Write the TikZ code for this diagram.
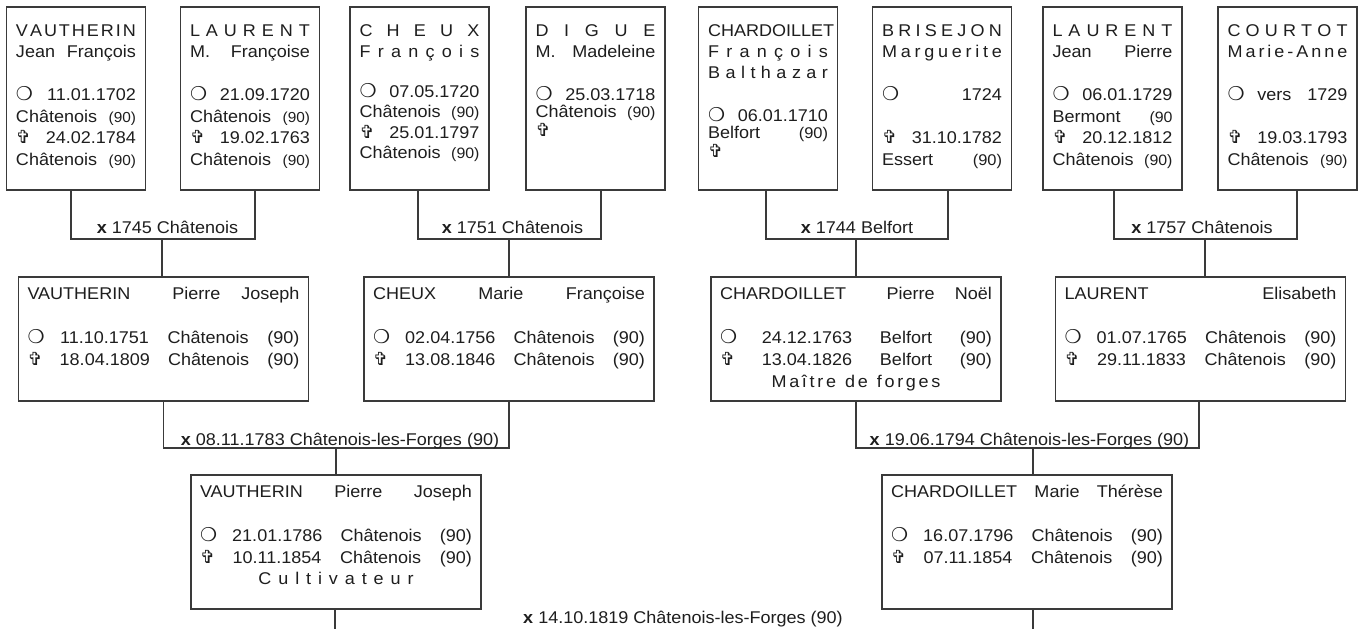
\documentclass[tikz,border=0pt]{standalone}
\usepackage{fontspec}
\setmainfont{Liberation Sans}[FakeStretch=1.06]
\newfontfamily\symf{DejaVu Sans}
\definecolor{ink}{HTML}{1E1E1E}
\definecolor{edge}{HTML}{3A3A3A}
\makeatletter
\def\lsp#1#2{\def\lsp@g{#1}\lsp@a#2\@nil}
\def\lsp@a#1#2\@nil{#1\ifx\relax#2\relax\else\lsp@g\lsp@a#2\@nil\fi}
\makeatother
\newdimen\lastb
\newcommand\Lx[2]{\vskip\dimexpr#1pt-\lastb\relax\lastb=#1pt\relax\setbox0\hbox to\hsize{#2}\ht0=0pt\dp0=0pt\box0}
\newcommand\btext[3]{\vbox to #2{\hsize=#1\relax\offinterlineskip\lastb=0pt\relax#3\vfil}}
\newcommand\bo{\makebox[14pt][l]{\symf\fontsize{19}{19}\selectfont ❍}}
\newcommand\dc{\makebox[14pt][l]{\symf\fontsize{18}{18}\selectfont ✞}}
\newcommand\pn[1]{{\fontsize{#1}{#1}\selectfont(90)}}
\newcommand\sq{\hskip2.7pt\relax}
\tikzset{
  pbox/.style={draw=edge, line width=1.3pt, inner sep=0pt, text=ink, font=\fontsize{17}{20}\selectfont},
  topbox/.style={pbox, minimum width=139pt},
  midbox/.style={pbox, minimum width=290pt},
  conn/.style={draw=edge, line width=1.2pt},
  lbl/.style={inner sep=0pt, text=ink, font=\fontsize{17}{20}\selectfont, anchor=base}
}
\begin{document}
\begin{tikzpicture}[x=1pt,y=-1pt]
\useasboundingbox (0,0) rectangle (1367,629);
\fill[white] (0,0) rectangle (1367,629);

% ---- top row ----
\node[topbox] (b1) at (76,98.5) {\btext{120pt}{183pt}{%
  \Lx{29}{\lsp{\hfil}{VAUTHERIN}}
  \Lx{50.5}{Jean\hfill François}
  \Lx{93.5}{\bo\hfill 11.01.1702}
  \Lx{115}{Châtenois\hfill\pn{14.5}}
  \Lx{136.5}{\dc\hfill 24.02.1784}
  \Lx{158}{Châtenois\hfill\pn{14.5}}}};
\node[topbox] (b2) at (250,98.5) {\btext{120pt}{183pt}{%
  \Lx{29}{\lsp{\hfil}{LAURENT}}
  \Lx{50.5}{M.\hfill Françoise}
  \Lx{93.5}{\bo\hfill 21.09.1720}
  \Lx{115}{Châtenois\hfill\pn{14.5}}
  \Lx{136.5}{\dc\hfill 19.02.1763}
  \Lx{158}{Châtenois\hfill\pn{14.5}}}};
\node[topbox] (b3) at (419.5,98.5) {\btext{120pt}{183pt}{%
  \Lx{29}{\lsp{\hfil}{CHEUX}}
  \Lx{50.5}{\lsp{\hfil}{François}}
  \Lx{90}{\bo\hfill 07.05.1720}
  \Lx{110.5}{Châtenois\hfill\pn{15}}
  \Lx{131}{\dc\hfill 25.01.1797}
  \Lx{151.5}{Châtenois\hfill\pn{15}}}};
\node[topbox] (b4) at (595.5,98.5) {\btext{120pt}{183pt}{%
  \Lx{29}{\lsp{\hfil}{DIGUE}}
  \Lx{50.5}{M.\hfill Madeleine}
  \Lx{93}{\bo\hfill 25.03.1718}
  \Lx{110.5}{Châtenois\hfill\pn{15}}
  \Lx{129}{\dc\hfill}}};
\node[topbox] (b5) at (768,98.5) {\btext{120pt}{183pt}{%
  \Lx{29}{\lsp{\hfil}{CHARDOILLET}}
  \Lx{50.5}{\lsp{\hfil}{François}}
  \Lx{71.5}{\lsp{\hfil}{Balthazar}}
  \Lx{114}{\bo\hfill 06.01.1710}
  \Lx{131}{Belfort\hfill\pn{15.5}}
  \Lx{150}{\dc\hfill}}};
\node[topbox] (b6) at (942,98.5) {\btext{120pt}{183pt}{%
  \Lx{29}{\lsp{\hfil}{BRISEJON}}
  \Lx{50.5}{\lsp{\hfil}{Marguerite}}
  \Lx{93.5}{\bo\hfill 1724}
  \Lx{136.5}{\dc\hfill 31.10.1782}
  \Lx{158}{Essert\hfill\pn{15.5}}}};
\node[topbox] (b7) at (1112.5,98.5) {\btext{120pt}{183pt}{%
  \Lx{29}{\lsp{\hfil}{LAURENT}}
  \Lx{50.5}{Jean\hfill Pierre}
  \Lx{93.5}{\bo\hfill 06.01.1729}
  \Lx{115}{Bermont\hfill{\fontsize{15}{15}\selectfont(90}}
  \Lx{136.5}{\dc\hfill 20.12.1812}
  \Lx{158}{Châtenois\hfill\pn{15}}}};
\node[topbox] (b8) at (1287.5,98.5) {\btext{120pt}{183pt}{%
  \Lx{29}{\lsp{\hfil}{COURTOT}}
  \Lx{50.5}{\lsp{\hfil}{Marie-Anne}}
  \Lx{93.5}{\bo\hfill vers\hfill 1729}
  \Lx{136.5}{\dc\hfill 19.03.1793}
  \Lx{158}{Châtenois\hfill\pn{14.5}}}};

% ---- middle row ----
\node[midbox] (p1) at (163.5,339) {\btext{272pt}{124pt}{%
  \Lx{22}{VAUTHERIN\hspace{\stretch{2}}Pierre\hfill Joseph}
  \Lx{66}{\bo\hfill 11.10.1751\hfill Châtenois\hfill (90)}
  \Lx{88}{\dc\hfill 18.04.1809\hfill Châtenois\hfill (90)}}};
\node[midbox] (p2) at (509,339) {\btext{272pt}{124pt}{%
  \Lx{22}{CHEUX\hfill Marie\hfill Françoise}
  \Lx{66}{\bo\hfill 02.04.1756\hfill Châtenois\hfill (90)}
  \Lx{88}{\dc\hfill 13.08.1846\hfill Châtenois\hfill (90)}}};
\node[midbox] (p3) at (856,339) {\btext{272pt}{124pt}{%
  \Lx{22}{CHARDOILLET\hspace{\stretch{2}}Pierre\hfill Noël}
  \Lx{66}{\bo\hfill 24.12.1763\hfill Belfort\hfill (90)}
  \Lx{88}{\dc\hfill 13.04.1826\hfill Belfort\hfill (90)}
  \Lx{110}{\hfil\lsp{\sq}{Maître}\hskip9pt\lsp{\sq}{de}\hskip9pt\lsp{\sq}{forges}\hfil}}};
\node[midbox] (p4) at (1200.5,339) {\btext{272pt}{124pt}{%
  \Lx{22}{LAURENT\hfill Elisabeth}
  \Lx{66}{\bo\hfill 01.07.1765\hfill Châtenois\hfill (90)}
  \Lx{88}{\dc\hfill 29.11.1833\hfill Châtenois\hfill (90)}}};

% ---- bottom row ----
\node[midbox] (c1) at (336,542) {\btext{272pt}{134pt}{%
  \Lx{22}{VAUTHERIN\hfill Pierre\hfill Joseph}
  \Lx{66}{\bo\hfill 21.01.1786\hfill Châtenois\hfill (90)}
  \Lx{88}{\dc\hfill 10.11.1854\hfill Châtenois\hfill (90)}
  \Lx{109}{\hfil\lsp{\hskip6.9pt\relax}{Cultivateur}\hfil}}};
\node[midbox] (c2) at (1027,542) {\btext{272pt}{134pt}{%
  \Lx{22}{CHARDOILLET\hfill Marie\hfill Thérèse}
  \Lx{66}{\bo\hfill 16.07.1796\hfill Châtenois\hfill (90)}
  \Lx{88}{\dc\hfill 07.11.1854\hfill Châtenois\hfill (90)}}};

% ---- junctions ----
\coordinate (j1) at (162,239);
\coordinate (j2) at (509,239);
\coordinate (j3) at (856,239);
\coordinate (j4) at (1205,239);
\coordinate (k1) at (336,448);
\coordinate (k2) at (1033,448);
\coordinate (e1) at (335,629);
\coordinate (e2) at (1033,629);

\draw[conn] ([xshift=-5pt]b1.south) |- (j1) -| ([xshift=5pt]b2.south);
\draw[conn] (j1) -- (j1 |- p1.north);
\draw[conn] ([xshift=-1.5pt]b3.south) |- (j2) -| ([xshift=5.5pt]b4.south);
\draw[conn] (j2) -- (j2 |- p2.north);
\draw[conn] ([xshift=-2pt]b5.south) |- (j3) -| ([xshift=6pt]b6.south);
\draw[conn] (j3) -- (j3 |- p3.north);
\draw[conn] ([xshift=1.5pt]b7.south) |- (j4) -| ([xshift=9.5pt]b8.south);
\draw[conn] (j4) -- (j4 |- p4.north);

\draw[conn] (p1.south) |- (k1) -| (p2.south);
\draw[conn] (k1) -- (k1 |- c1.north);
\draw[conn] (p3.south) |- (k2) -| ([xshift=-1.5pt]p4.south);
\draw[conn] (k2) -- (k2 |- c2.north);

\draw[conn] (c1.south -| e1) -- (e1);
\draw[conn] (c2.south -| e2) -- (e2);

% ---- marriage labels ----
\node[lbl] (m1) at (167.5,233) {\textbf{x} 1745 Châtenois};
\node[lbl] (m2) at (512.5,233) {\textbf{x} 1751 Châtenois};
\node[lbl] (m3) at (857,233) {\textbf{x} 1744 Belfort};
\node[lbl] (m4) at (1202,233) {\textbf{x} 1757 Châtenois};
\node[lbl] (n1) at (340,445) {\textbf{x} 08.11.1783 Châtenois-les-Forges (90)};
\node[lbl] (n2) at (1029.5,445) {\textbf{x} 19.06.1794 Châtenois-les-Forges (90)};
\node[lbl] (o1) at (683,623) {\textbf{x} 14.10.1819 Châtenois-les-Forges (90)};
\end{tikzpicture}
\end{document}
